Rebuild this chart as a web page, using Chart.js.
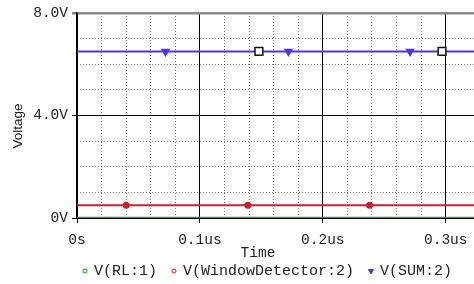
<!DOCTYPE html>
<html>
<head>
<meta charset="utf-8">
<script src="https://cdn.jsdelivr.net/npm/chart.js@4"></script>
<style>
  body { margin: 0; background: #fff; }
  #wrap { width: 474px; height: 284px; position: relative; }
</style>
</head>
<body>
<div id="wrap"><canvas id="plot"></canvas></div>
<script>
// values (time in us, voltage in V)
const seriesLabels = ["V(RL:1)", "V(WindowDetector:2)", "V(SUM:2)"];
const timeSpan = [0, 0.323];
const rlLevel = 0;
const windowLevel = 0.5;
const sumLevel = 6.5;
const windowMarkers = [0.040, 0.139, 0.238];
const sumMarkers = [0.072, 0.172, 0.271];
const cursorMarkers = [0.148, 0.297];
const voltTicks = [0, 4, 8];
const timeStep = 0.1;
const timeMinorStep = 0.02;
const voltMinorStep = 1;

const mono = "Liberation Mono";
const green = "#1fa32c";
const red = "#c8202e";
const blue = "#5530e8";

function flat(level, marks) {
  const times = [timeSpan[0], ...marks, timeSpan[1]];
  return times.map(t => ({ x: t, y: level }));
}

function markerRadius(r) {
  return c => (c.dataIndex === 0 || c.dataIndex === c.dataset.data.length - 1) ? 0 : r;
}

function isMultiple(v, step) {
  const q = v / step;
  return Math.abs(q - Math.round(q)) < 1e-6;
}

function noPad(s) {
  s.paddingLeft = 0;
  s.paddingRight = 0;
  s.paddingTop = 0;
  s.paddingBottom = 0;
}

const legendStyles = [
  { style: "rect", fill: "#fff", stroke: green, r: 2.5 },
  { style: "circle", fill: "#fff", stroke: red, r: 2 },
  { style: "triangle", fill: blue, stroke: blue, r: 3, rot: 180 },
];

const extras = {
  id: "extras",
  afterDraw(chart) {
    const { ctx, chartArea } = chart;
    ctx.save();
    ctx.fillStyle = "#222";
    ctx.textBaseline = "middle";

    ctx.font = `14.5px "${mono}"`;
    ctx.textAlign = "center";
    ctx.fillText("Time", chartArea.left + 181, 253);

    ctx.save();
    ctx.translate(18, 126);
    ctx.rotate(-Math.PI / 2);
    ctx.font = '13.5px "Liberation Sans"';
    ctx.fillText("Voltage", 0, 0);
    ctx.restore();

    // legend
    ctx.font = `15px "${mono}"`;
    ctx.textAlign = "left";
    let x = chartArea.left + 8;
    const y = 271;
    seriesLabels.forEach((label, i) => {
      const s = legendStyles[i];
      ctx.fillStyle = s.fill;
      ctx.strokeStyle = s.stroke;
      ctx.lineWidth = 1;
      Chart.helpers.drawPoint(ctx, { pointStyle: s.style, radius: s.r, rotation: s.rot || 0, borderWidth: 1 }, x, y);
      ctx.fillStyle = "#222";
      ctx.fillText(label, x + 9, y);
      x += 9 + ctx.measureText(label).width + 17;
    });
    ctx.restore();
  }
};

new Chart(document.getElementById("plot"), {
  type: "line",
  data: {
    datasets: [
      {
        label: "cursor",
        data: cursorMarkers.map(t => ({ x: t, y: sumLevel })),
        showLine: false,
        pointStyle: "rect",
        pointRadius: 5.5,
        pointBackgroundColor: "#fff",
        pointBorderColor: "#111",
        pointBorderWidth: 1.5,
        order: 0,
      },
      {
        label: seriesLabels[2],
        data: flat(sumLevel, sumMarkers),
        borderColor: blue,
        borderWidth: 2,
        pointStyle: "triangle",
        pointRotation: 180,
        pointRadius: markerRadius(3.5),
        pointBackgroundColor: blue,
        pointBorderColor: blue,
        order: 1,
      },
      {
        label: seriesLabels[1],
        data: flat(windowLevel, windowMarkers),
        borderColor: red,
        borderWidth: 2,
        pointStyle: "circle",
        pointRadius: markerRadius(2.5),
        pointBackgroundColor: red,
        pointBorderColor: red,
        order: 2,
      },
      {
        label: seriesLabels[0],
        data: flat(rlLevel, []),
        borderColor: green,
        borderWidth: 2.5,
        pointRadius: 0,
        order: 3,
      },
    ],
  },
  options: {
    responsive: true,
    maintainAspectRatio: false,
    animation: false,
    layout: { padding: 0, autoPadding: false },
    plugins: { legend: { display: false }, tooltip: { enabled: false } },
    scales: {
      xm: {
        type: "linear",
        position: "bottom",
        min: timeSpan[0],
        max: timeSpan[1],
        ticks: { display: false, stepSize: timeMinorStep },
        grid: {
          drawTicks: false,
          color: c => isMultiple(c.tick.value, timeStep) ? "transparent" : "rgba(0,0,0,0.55)",
        },
        border: { display: false, dash: [1, 2] },
        afterFit: s => { s.height = 0; noPad(s); },
      },
      ym: {
        type: "linear",
        position: "left",
        min: 0,
        max: 8,
        ticks: { display: false, stepSize: voltMinorStep },
        grid: {
          drawTicks: false,
          color: c => isMultiple(c.tick.value, 4) ? "transparent" : "rgba(0,0,0,0.55)",
        },
        border: { display: false, dash: [1, 2] },
        afterFit: s => { s.width = 0; noPad(s); },
      },
      x: {
        type: "linear",
        position: "bottom",
        min: timeSpan[0],
        max: timeSpan[1],
        ticks: {
          stepSize: timeStep,
          includeBounds: false,
          maxRotation: 0,
          padding: 8,
          color: "#222",
          font: { family: mono, size: 14.5 },
          callback: v => v === 0 ? "0s" : v.toFixed(1) + "us",
        },
        grid: { color: "#000", lineWidth: 1, tickLength: 5 },
        border: { color: "#000", width: 1 },
        afterFit: s => { s.height = 66; noPad(s); },
      },
      y: {
        type: "linear",
        position: "left",
        min: 0,
        max: 8,
        afterBuildTicks: s => { s.ticks = voltTicks.map(v => ({ value: v })); },
        ticks: {
          padding: 4,
          color: "#222",
          font: { family: mono, size: 14.5 },
          callback: v => v === 0 ? "0V" : v.toFixed(1) + "V",
        },
        grid: {
          tickLength: 5,
          color: c => c.tick.value === 8 ? "#8a8a8a" : "#000",
          lineWidth: c => c.tick.value === 8 ? 2.5 : 1,
        },
        border: { color: "#000", width: 1.5 },
        afterFit: s => { s.width = 77; s.paddingTop = 13; s.paddingBottom = 0; },
      },
    },
  },
  plugins: [extras],
});
</script>
</body>
</html>
